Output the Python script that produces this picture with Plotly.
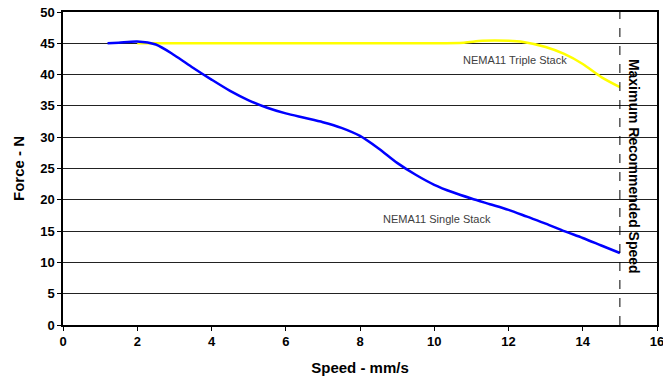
import plotly.graph_objects as go

# Data
single_speed = [1.2, 1.5, 2.0, 2.5, 3.0, 3.5, 4.0, 4.5, 5.0, 5.5, 6.0, 6.5, 7.0, 7.5, 8.0,
                8.5, 9.0, 9.5, 10.0, 10.5, 11.0, 11.5, 12.0, 12.5, 13.0, 13.5, 14.0, 14.5, 15.0]
single_force = [45.0, 45.1, 45.3, 44.8, 43.1, 41.1, 39.2, 37.4, 35.9, 34.7, 33.8, 33.1, 32.4, 31.5, 30.2,
                28.2, 25.9, 24.0, 22.4, 21.2, 20.2, 19.3, 18.4, 17.3, 16.2, 15.0, 13.9, 12.7, 11.5]

triple_speed = [2.0, 4.0, 6.0, 8.0, 10.0, 10.8, 11.3, 12.0, 12.4, 13.0, 13.5, 14.0, 14.5, 15.0]
triple_force = [45.0, 45.0, 45.0, 45.0, 45.0, 45.1, 45.4, 45.4, 45.2, 44.4, 43.3, 41.7, 39.6, 38.0]

max_speed = 15
x_ticks = [0, 2, 4, 6, 8, 10, 12, 14, 16]
y_ticks = [0, 5, 10, 15, 20, 25, 30, 35, 40, 45, 50]

FONT = "Liberation Sans, Arial, sans-serif"

fig = go.Figure()
fig.add_trace(go.Scatter(x=triple_speed, y=triple_force, mode="lines",
                         line=dict(color="#FFFF00", width=2.5, shape="spline", smoothing=0.8),
                         name="NEMA11 Triple Stack"))
fig.add_trace(go.Scatter(x=single_speed, y=single_force, mode="lines",
                         line=dict(color="#0000FF", width=2.5, shape="spline", smoothing=0.8),
                         name="NEMA11 Single Stack"))

fig.add_shape(type="line", x0=max_speed, x1=max_speed, y0=0, y1=50, xref="x", yref="y",
              line=dict(color="#000000", width=1, dash="dash"))

fig.add_annotation(x=12.17, y=42.3, text="NEMA11 Triple Stack", showarrow=False,
                   font=dict(family=FONT, size=11, color="#404040"))
fig.add_annotation(x=10.08, y=17.0, text="NEMA11 Single Stack", showarrow=False,
                   font=dict(family=FONT, size=11, color="#404040"))
fig.add_annotation(x=15.4, y=25.3, text="Maximum Recommended Speed", showarrow=False,
                   textangle=90, font=dict(family=FONT, size=14, color="#000000", weight="bold"))

fig.update_xaxes(range=[0, 16], tickvals=x_ticks, ticks="outside", ticklen=4, tickcolor="#000",
                 showline=True, linecolor="#000", linewidth=1.5, mirror=True, showgrid=False,
                 zeroline=False, automargin=False, ticklabeloverflow="allow",
                 tickfont=dict(family=FONT, size=13, color="#000", weight="bold"),
                 title=dict(text="Speed - mm/s", standoff=14,
                            font=dict(family=FONT, size=15, color="#000", weight="bold")))
fig.update_yaxes(range=[0, 50], tickvals=y_ticks, ticks="outside", ticklen=4, tickcolor="#000",
                 showline=True, linecolor="#000", linewidth=1.5, mirror=True,
                 showgrid=True, gridcolor="#222222", gridwidth=1, zeroline=False, automargin=False,
                 ticklabeloverflow="allow",
                 tickfont=dict(family=FONT, size=13, color="#000", weight="bold"),
                 title=dict(text="Force - N", standoff=12,
                            font=dict(family=FONT, size=15, color="#000", weight="bold")))

fig.update_layout(width=663, height=388, showlegend=False,
                  margin=dict(l=63, r=6, t=12, b=63),
                  plot_bgcolor="#FFFFFF", paper_bgcolor="#FFFFFF")

# remove the browser's default page margin so the figure fills the window exactly
fig.write_html("out.html",
               config={"displayModeBar": False},
               post_script="document.body.style.margin='0';"
                           "document.documentElement.style.overflow='hidden';")
